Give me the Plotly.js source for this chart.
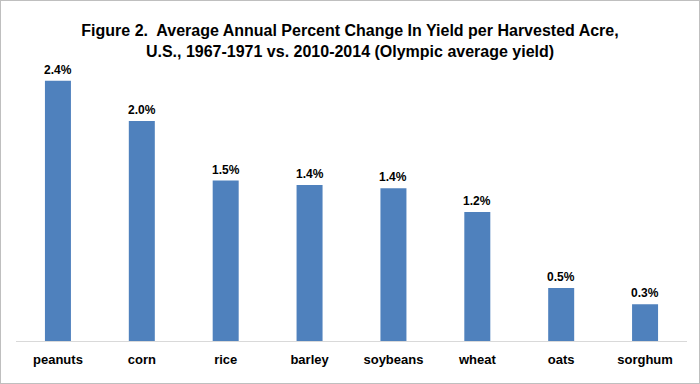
<!DOCTYPE html>
<html>
<head>
<meta charset="utf-8">
<script src="https://cdn.plot.ly/plotly-3.0.1.min.js"></script>
<style>
  html, body { margin: 0; padding: 0; background: #fff; }
  #wrap { position: relative; width: 700px; height: 384px; }
  #chart { width: 700px; height: 384px; }
  #frame { position: absolute; left: 0; top: 0; width: 698px; height: 382px; border: 1px solid #BFBFBF; pointer-events: none; }
</style>
</head>
<body>
<div id="wrap"><div id="chart"></div><div id="frame"></div></div>
<script>
const categories = ["peanuts", "corn", "rice", "barley", "soybeans", "wheat", "oats", "sorghum"];
const pctChange = [2.40, 2.03, 1.48, 1.44, 1.41, 1.19, 0.49, 0.34];
const valueLabels = ["2.4%", "2.0%", "1.5%", "1.4%", "1.4%", "1.2%", "0.5%", "0.3%"];
const titleLines = ["Figure 2.  Average Annual Percent Change In Yield per Harvested Acre,",
                    "U.S., 1967-1971 vs. 2010-2014 (Olympic average yield)"];

const trace = {
  type: "bar",
  x: categories,
  y: pctChange,
  width: 0.31,
  marker: { color: "#4F81BD" },
  hoverinfo: "skip"
};

const annotations = categories.map((c, i) => ({
  x: c, y: pctChange[i], xref: "x", yref: "y",
  text: valueLabels[i], showarrow: false,
  yanchor: "bottom", yshift: 2,
  font: { family: "Liberation Sans, Arial, sans-serif", size: 12, color: "#000", weight: "bold" }
}));

const layout = {
  width: 700, height: 384,
  margin: { l: 16, r: 13, t: 70, b: 43 },
  paper_bgcolor: "#fff", plot_bgcolor: "#fff",
  showlegend: false,
  title: {
    text: titleLines.join("<br>"),
    x: 0.5, xanchor: "center",
    yref: "container", y: 1 - 36 / 384, yanchor: "middle",
    font: { family: "Liberation Sans Narrow, Liberation Sans, Arial, sans-serif", size: 16, color: "#000", weight: "bold" }
  },
  xaxis: {
    type: "category",
    showline: true, linecolor: "#D9D9D9", linewidth: 1,
    ticks: "outside", ticklen: 6, tickcolor: "rgba(0,0,0,0)",
    tickfont: { family: "Liberation Sans, Arial, sans-serif", size: 13, color: "#000", weight: "bold" },
    showgrid: false, zeroline: false, fixedrange: true
  },
  yaxis: {
    range: [0, 2.5],
    visible: false, showgrid: false, zeroline: false, fixedrange: true
  },
  annotations: annotations
};

Plotly.newPlot("chart", [trace], layout, { displayModeBar: false, staticPlot: true });
</script>
</body>
</html>
